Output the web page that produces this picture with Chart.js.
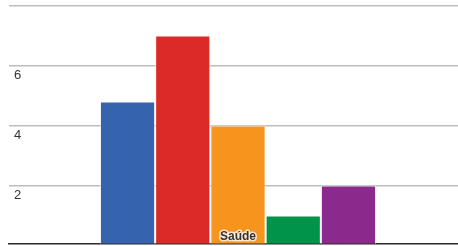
<!DOCTYPE html>
<html>
<head>
<meta charset="utf-8">
<script src="https://cdn.jsdelivr.net/npm/chart.js@4/dist/chart.umd.min.js"></script>
<style>
html,body{margin:0;padding:0;background:#fff;overflow:hidden;}
#wrap{width:467px;height:246px;}
</style>
</head>
<body>
<div id="wrap"><canvas id="c" width="467" height="246"></canvas></div>
<script>
const categories = ["Saúde"];
const seriesNames = ["Série 1", "Série 2", "Série 3", "Série 4", "Série 5"];
const seriesValues = [[4.8], [7.0], [4.0], [1.0], [2.0]];
const seriesColors = ["#3563ae", "#dc2b26", "#f7941e", "#00934a", "#8a2a8c"];
const yTicks = [2, 4, 6, 8];
const yTickLabels = ["2", "4", "6", ""];

const categoryLabelPlugin = {
  id: 'categoryLabel',
  afterDatasetsDraw(chart) {
    const ctx = chart.ctx;
    const x = chart.scales.x;
    const area = chart.chartArea;
    ctx.save();
    ctx.font = 'bold 12px "Liberation Sans", Arial, sans-serif';
    ctx.textAlign = 'center';
    ctx.textBaseline = 'alphabetic';
    categories.forEach((c, i) => {
      const px = x.getPixelForValue(i);
      const py = area.bottom - 4;
      ctx.lineJoin = 'round';
      ctx.lineWidth = 3;
      ctx.strokeStyle = 'rgba(255,255,255,0.75)';
      ctx.strokeText(c, px, py);
      ctx.fillStyle = '#333333';
      ctx.fillText(c, px, py);
    });
    ctx.restore();
  }
};

new Chart(document.getElementById('c'), {
  type: 'bar',
  data: {
    labels: categories,
    datasets: seriesNames.map((n, i) => ({
      label: n,
      data: seriesValues[i],
      backgroundColor: seriesColors[i],
      borderColor: 'rgba(255,255,255,0.7)',
      borderWidth: 1,
      barPercentage: 1,
      categoryPercentage: 0.603
    }))
  },
  options: {
    responsive: false,
    animation: false,
    devicePixelRatio: 1,
    layout: { padding: { left: -1, right: 0, top: 5.5, bottom: 2.5 } },
    plugins: { legend: { display: false }, tooltip: { enabled: false } },
    scales: {
      x: {
        display: true,
        grid: { display: false, drawTicks: false },
        ticks: { display: false, padding: 0 },
        border: { display: true, color: '#2a2a2a', width: 1.5 },
        afterFit(scale) { scale.height = 0; scale.paddingLeft = 0; scale.paddingRight = 0; }
      },
      y: {
        min: 0.067,
        max: 8,
        afterBuildTicks(scale) { scale.ticks = yTicks.map(v => ({ value: v })); },
        afterFit(scale) { scale.paddingTop = 0; scale.paddingBottom = 0; },
        grid: { color: '#bdbdbd', lineWidth: 1.5, drawTicks: false },
        border: { display: false },
        ticks: {
          mirror: true,
          padding: 5,
          labelOffset: 9.5,
          color: '#333333',
          font: { family: '"Liberation Sans", Arial, sans-serif', size: 13 },
          callback: (v) => yTickLabels[yTicks.indexOf(v)] ?? ''
        }
      }
    }
  },
  plugins: [categoryLabelPlugin]
});
</script>
</body>
</html>
